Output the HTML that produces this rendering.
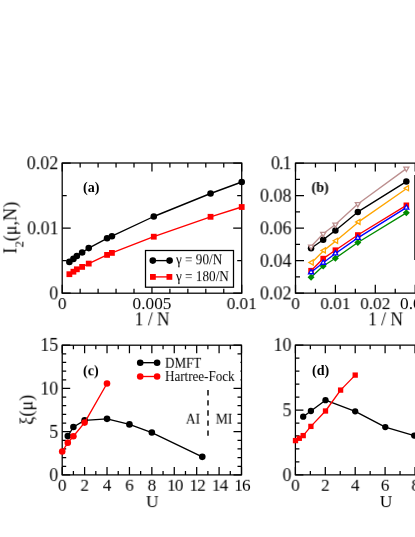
<!DOCTYPE html><html><head><meta charset="utf-8"><style>html,body{margin:0;padding:0;background:#fff}svg{display:block}text{font-family:"Liberation Serif",serif;fill:#000;will-change:transform}</style></head><body>
<svg width="415" height="537" viewBox="0 0 415 537">
<rect width="415" height="537" fill="#fff"/>
<rect x="62.2" y="163.0" width="179.5" height="130.2" fill="none" stroke="#000" stroke-width="1.25"/>
<path d="M62.20 293.2v-8.5M62.20 163.0v8.5M80.15 293.2v-4.5M80.15 163.0v4.5M98.10 293.2v-4.5M98.10 163.0v4.5M116.05 293.2v-4.5M116.05 163.0v4.5M134.00 293.2v-4.5M134.00 163.0v4.5M151.95 293.2v-8.5M151.95 163.0v8.5M169.90 293.2v-4.5M169.90 163.0v4.5M187.85 293.2v-4.5M187.85 163.0v4.5M205.80 293.2v-4.5M205.80 163.0v4.5M223.75 293.2v-4.5M223.75 163.0v4.5M241.70 293.2v-8.5M241.70 163.0v8.5M62.2 293.20h8.5M241.7 293.20h-8.5M62.2 260.65h4.5M241.7 260.65h-4.5M62.2 228.10h8.5M241.7 228.10h-8.5M62.2 195.55h4.5M241.7 195.55h-4.5M62.2 163.00h8.5M241.7 163.00h-8.5" fill="none" stroke="#000" stroke-width="1.25"/>
<path d="M69.38 261.90L73.42 258.90L76.85 256.00L82.14 252.50L88.75 248.10L107.08 238.30L111.92 236.20L153.78 216.50L210.55 193.50L241.70 182.00" fill="none" stroke="#000" stroke-width="1.35" stroke-linejoin="round"/>
<circle cx="69.38" cy="261.90" r="3.3" fill="#000"/>
<circle cx="73.42" cy="258.90" r="3.3" fill="#000"/>
<circle cx="76.85" cy="256.00" r="3.3" fill="#000"/>
<circle cx="82.14" cy="252.50" r="3.3" fill="#000"/>
<circle cx="88.75" cy="248.10" r="3.3" fill="#000"/>
<circle cx="107.08" cy="238.30" r="3.3" fill="#000"/>
<circle cx="111.92" cy="236.20" r="3.3" fill="#000"/>
<circle cx="153.78" cy="216.50" r="3.3" fill="#000"/>
<circle cx="210.55" cy="193.50" r="3.3" fill="#000"/>
<circle cx="241.70" cy="182.00" r="3.3" fill="#000"/>
<path d="M69.38 274.20L73.42 271.70L76.85 269.30L82.14 266.90L88.75 263.60L107.08 254.90L111.92 252.90L153.78 236.70L210.55 216.80L241.70 207.00" fill="none" stroke="#ff0000" stroke-width="1.35" stroke-linejoin="round"/>
<rect x="66.48" y="271.30" width="5.8" height="5.8" fill="#ff0000"/>
<rect x="70.52" y="268.80" width="5.8" height="5.8" fill="#ff0000"/>
<rect x="73.95" y="266.40" width="5.8" height="5.8" fill="#ff0000"/>
<rect x="79.24" y="264.00" width="5.8" height="5.8" fill="#ff0000"/>
<rect x="85.85" y="260.70" width="5.8" height="5.8" fill="#ff0000"/>
<rect x="104.17" y="252.00" width="5.8" height="5.8" fill="#ff0000"/>
<rect x="109.02" y="250.00" width="5.8" height="5.8" fill="#ff0000"/>
<rect x="150.88" y="233.80" width="5.8" height="5.8" fill="#ff0000"/>
<rect x="207.65" y="213.90" width="5.8" height="5.8" fill="#ff0000"/>
<rect x="238.80" y="204.10" width="5.8" height="5.8" fill="#ff0000"/>
<rect x="145.5" y="250.5" width="88.0" height="36.69999999999999" fill="#fff" stroke="#000" stroke-width="1.25"/>
<path d="M152.80 260.60L169.60 260.60" fill="none" stroke="#000" stroke-width="1.35" stroke-linejoin="round"/>
<circle cx="152.80" cy="260.60" r="3.3" fill="#000"/>
<circle cx="169.60" cy="260.60" r="3.3" fill="#000"/>
<path d="M152.90 276.90L169.40 276.90" fill="none" stroke="#ff0000" stroke-width="1.35" stroke-linejoin="round"/>
<rect x="150.00" y="274.00" width="5.8" height="5.8" fill="#ff0000"/>
<rect x="166.50" y="274.00" width="5.8" height="5.8" fill="#ff0000"/>
<text transform="translate(176.00,264.50) rotate(0.03) scale(1,1.1)" font-size="13.2" text-anchor="start" >γ = 90/N</text>
<text transform="translate(176.00,281.30) rotate(0.03) scale(1,1.1)" font-size="13.2" text-anchor="start" >γ = 180/N</text>
<text transform="translate(83.00,192.00) rotate(0.03) scale(1,1.0)" font-size="14.1" text-anchor="start" font-weight="bold">(a)</text>
<text transform="translate(58.30,169.40) rotate(0.03) scale(1,1.07)" font-size="18.0" text-anchor="end" >0.02</text>
<text transform="translate(58.60,234.50) rotate(0.03) scale(1,1.07)" font-size="18.0" text-anchor="end" >0.01</text>
<text transform="translate(58.30,299.60) rotate(0.03) scale(1,1.07)" font-size="18.0" text-anchor="end" >0</text>
<text transform="translate(62.20,309.10) rotate(0.03) scale(1,1.0)" font-size="17.3" text-anchor="middle" >0</text>
<text transform="translate(151.95,309.10) rotate(0.03) scale(1,1.0)" font-size="17.3" text-anchor="middle" >0.005</text>
<text transform="translate(241.70,309.10) rotate(0.03) scale(1,1.0)" font-size="17.3" text-anchor="middle" >0.01</text>
<text transform="translate(152.20,325.70) rotate(0.03) scale(1,1.02)" font-size="17.5" text-anchor="middle" >1 / N</text>
<text transform="translate(16.4,227.7) rotate(-90)" font-size="18.1" text-anchor="middle">I<tspan font-size="12.9" dy="7.4">2</tspan><tspan dy="-7.4">(μ,N)</tspan></text>
<path d="M420 163.0H295.5V293.2H420" fill="none" stroke="#000" stroke-width="1.25"/>
<path d="M295.50 293.2v-8.5M295.50 163.0v8.5M315.45 293.2v-4.5M315.45 163.0v4.5M335.40 293.2v-8.5M335.40 163.0v8.5M355.35 293.2v-4.5M355.35 163.0v4.5M375.30 293.2v-8.5M375.30 163.0v8.5M395.25 293.2v-4.5M395.25 163.0v4.5M415.20 293.2v-8.5M415.20 163.0v8.5M295.5 293.20h8.5M295.5 276.93h4.5M295.5 260.65h8.5M295.5 244.38h4.5M295.5 228.10h8.5M295.5 211.82h4.5M295.5 195.55h8.5M295.5 179.28h4.5M295.5 163.00h8.5" fill="none" stroke="#000" stroke-width="1.25"/>
<path d="M311.06 248.20L323.19 239.70L335.40 230.40L357.84 211.90L406.34 181.60" fill="none" stroke="#000" stroke-width="1.35" stroke-linejoin="round"/>
<circle cx="311.06" cy="248.20" r="3.25" fill="#000"/>
<circle cx="323.19" cy="239.70" r="3.25" fill="#000"/>
<circle cx="335.40" cy="230.40" r="3.25" fill="#000"/>
<circle cx="357.84" cy="211.90" r="3.25" fill="#000"/>
<circle cx="406.34" cy="181.60" r="3.25" fill="#000"/>
<path d="M311.06 270.70L323.19 258.60L335.40 250.20L357.84 235.00L406.34 205.30" fill="none" stroke="#ff0000" stroke-width="1.35" stroke-linejoin="round"/>
<rect x="308.26" y="267.90" width="5.6" height="5.6" fill="#ff0000"/>
<rect x="320.39" y="255.80" width="5.6" height="5.6" fill="#ff0000"/>
<rect x="332.60" y="247.40" width="5.6" height="5.6" fill="#ff0000"/>
<rect x="355.04" y="232.20" width="5.6" height="5.6" fill="#ff0000"/>
<rect x="403.54" y="202.50" width="5.6" height="5.6" fill="#ff0000"/>
<path d="M311.06 277.20L323.19 266.00L335.40 258.20L357.84 242.50L406.34 212.80" fill="none" stroke="#008b00" stroke-width="1.35" stroke-linejoin="round"/>
<path d="M311.06 273.70L314.56 277.20L311.06 280.70L307.56 277.20Z" fill="#008b00"/>
<path d="M323.19 262.50L326.69 266.00L323.19 269.50L319.69 266.00Z" fill="#008b00"/>
<path d="M335.40 254.70L338.90 258.20L335.40 261.70L331.90 258.20Z" fill="#008b00"/>
<path d="M357.84 239.00L361.34 242.50L357.84 246.00L354.34 242.50Z" fill="#008b00"/>
<path d="M406.34 209.30L409.84 212.80L406.34 216.30L402.84 212.80Z" fill="#008b00"/>
<path d="M311.06 272.32L323.19 262.82L335.40 253.52L357.84 237.92L406.34 207.62" fill="none" stroke="#0000ff" stroke-width="1.35" stroke-linejoin="round"/>
<path d="M308.56 273.77L313.56 273.77L311.06 269.43Z" fill="#fff" stroke="#0000ff" stroke-width="1.3" stroke-linejoin="miter"/>
<path d="M320.69 264.27L325.69 264.27L323.19 259.93Z" fill="#fff" stroke="#0000ff" stroke-width="1.3" stroke-linejoin="miter"/>
<path d="M332.90 254.97L337.90 254.97L335.40 250.63Z" fill="#fff" stroke="#0000ff" stroke-width="1.3" stroke-linejoin="miter"/>
<path d="M355.34 239.37L360.34 239.37L357.84 235.03Z" fill="#fff" stroke="#0000ff" stroke-width="1.3" stroke-linejoin="miter"/>
<path d="M403.84 209.07L408.84 209.07L406.34 204.73Z" fill="#fff" stroke="#0000ff" stroke-width="1.3" stroke-linejoin="miter"/>
<path d="M311.78 262.50L323.91 250.40L336.12 240.80L358.57 221.90L407.06 188.20" fill="none" stroke="#ffa500" stroke-width="1.35" stroke-linejoin="round"/>
<path d="M313.23 260.00L313.23 265.00L308.90 262.50Z" fill="#fff" stroke="#ffa500" stroke-width="1.3" stroke-linejoin="miter"/>
<path d="M325.36 247.90L325.36 252.90L321.03 250.40Z" fill="#fff" stroke="#ffa500" stroke-width="1.3" stroke-linejoin="miter"/>
<path d="M337.57 238.30L337.57 243.30L333.23 240.80Z" fill="#fff" stroke="#ffa500" stroke-width="1.3" stroke-linejoin="miter"/>
<path d="M360.01 219.40L360.01 224.40L355.68 221.90Z" fill="#fff" stroke="#ffa500" stroke-width="1.3" stroke-linejoin="miter"/>
<path d="M408.51 185.70L408.51 190.70L404.18 188.20Z" fill="#fff" stroke="#ffa500" stroke-width="1.3" stroke-linejoin="miter"/>
<path d="M311.06 246.58L323.19 233.78L335.40 224.48L357.84 203.98L406.34 168.58" fill="none" stroke="#bc8f8f" stroke-width="1.35" stroke-linejoin="round"/>
<path d="M308.56 245.13L313.56 245.13L311.06 249.47Z" fill="#fff" stroke="#bc8f8f" stroke-width="1.3" stroke-linejoin="miter"/>
<path d="M320.69 232.33L325.69 232.33L323.19 236.67Z" fill="#fff" stroke="#bc8f8f" stroke-width="1.3" stroke-linejoin="miter"/>
<path d="M332.90 223.03L337.90 223.03L335.40 227.37Z" fill="#fff" stroke="#bc8f8f" stroke-width="1.3" stroke-linejoin="miter"/>
<path d="M355.34 202.53L360.34 202.53L357.84 206.87Z" fill="#fff" stroke="#bc8f8f" stroke-width="1.3" stroke-linejoin="miter"/>
<path d="M403.84 167.13L408.84 167.13L406.34 171.47Z" fill="#fff" stroke="#bc8f8f" stroke-width="1.3" stroke-linejoin="miter"/>
<path d="M414.9 175V260" stroke="#000" stroke-width="1.25" fill="none"/>
<text transform="translate(311.50,192.00) rotate(0.03) scale(1,1.0)" font-size="14.1" text-anchor="start" font-weight="bold">(b)</text>
<text transform="translate(291.50,299.60) rotate(0.03) scale(1,1.07)" font-size="18.0" text-anchor="end" >0.02</text>
<text transform="translate(291.50,267.05) rotate(0.03) scale(1,1.07)" font-size="18.0" text-anchor="end" >0.04</text>
<text transform="translate(291.50,234.50) rotate(0.03) scale(1,1.07)" font-size="18.0" text-anchor="end" >0.06</text>
<text transform="translate(291.50,201.95) rotate(0.03) scale(1,1.07)" font-size="18.0" text-anchor="end" >0.08</text>
<text transform="translate(290.50,169.40) rotate(0.03) scale(1,1.07)" font-size="18.0" text-anchor="end" letter-spacing="-1">0.1</text>
<text transform="translate(295.50,309.10) rotate(0.03) scale(1,1.0)" font-size="17.3" text-anchor="middle" >0</text>
<text transform="translate(335.40,309.10) rotate(0.03) scale(1,1.0)" font-size="17.3" text-anchor="middle" >0.01</text>
<text transform="translate(375.30,309.10) rotate(0.03) scale(1,1.0)" font-size="17.3" text-anchor="middle" >0.02</text>
<text transform="translate(400.00,309.10) rotate(0.03) scale(1,1.0)" font-size="17.3" text-anchor="start" >0.03</text>
<text transform="translate(368.20,325.70) rotate(0.03) scale(1,1.02)" font-size="17.5" text-anchor="start" >1 / N</text>
<rect x="62.2" y="345.2" width="179.3" height="129.7" fill="none" stroke="#000" stroke-width="1.25"/>
<path d="M62.20 474.9v-8M62.20 345.2v8M73.41 474.9v-4.0M73.41 345.2v4.0M84.61 474.9v-8M84.61 345.2v8M95.82 474.9v-4.0M95.82 345.2v4.0M107.03 474.9v-8M107.03 345.2v8M118.23 474.9v-4.0M118.23 345.2v4.0M129.44 474.9v-8M129.44 345.2v8M140.64 474.9v-4.0M140.64 345.2v4.0M151.85 474.9v-8M151.85 345.2v8M163.06 474.9v-4.0M163.06 345.2v4.0M174.26 474.9v-8M174.26 345.2v8M185.47 474.9v-4.0M185.47 345.2v4.0M196.68 474.9v-8M196.68 345.2v8M207.88 474.9v-4.0M207.88 345.2v4.0M219.09 474.9v-8M219.09 345.2v8M230.29 474.9v-4.0M230.29 345.2v4.0M241.50 474.9v-8M241.50 345.2v8M62.2 474.90h8M241.5 474.90h-8M62.2 466.25h4.0M241.5 466.25h-4.0M62.2 457.61h4.0M241.5 457.61h-4.0M62.2 448.96h4.0M241.5 448.96h-4.0M62.2 440.31h4.0M241.5 440.31h-4.0M62.2 431.67h8M241.5 431.67h-8M62.2 423.02h4.0M241.5 423.02h-4.0M62.2 414.37h4.0M241.5 414.37h-4.0M62.2 405.73h4.0M241.5 405.73h-4.0M62.2 397.08h4.0M241.5 397.08h-4.0M62.2 388.43h8M241.5 388.43h-8M62.2 379.79h4.0M241.5 379.79h-4.0M62.2 371.14h4.0M241.5 371.14h-4.0M62.2 362.49h4.0M241.5 362.49h-4.0M62.2 353.85h4.0M241.5 353.85h-4.0M62.2 345.20h8M241.5 345.20h-8" fill="none" stroke="#000" stroke-width="1.25"/>
<rect x="134" y="357" width="106.4" height="27" fill="#fff"/>
<path d="M67.80 436.08L73.41 427.00L84.61 420.34L107.03 418.87L129.44 424.40L151.85 432.53L202.28 456.83" fill="none" stroke="#000" stroke-width="1.35" stroke-linejoin="round"/>
<circle cx="67.80" cy="436.08" r="3.3" fill="#000"/>
<circle cx="73.41" cy="427.00" r="3.3" fill="#000"/>
<circle cx="84.61" cy="420.34" r="3.3" fill="#000"/>
<circle cx="107.03" cy="418.87" r="3.3" fill="#000"/>
<circle cx="129.44" cy="424.40" r="3.3" fill="#000"/>
<circle cx="151.85" cy="432.53" r="3.3" fill="#000"/>
<circle cx="202.28" cy="456.83" r="3.3" fill="#000"/>
<path d="M62.20 451.50L67.80 442.80L73.40 436.20L84.60 422.60L107.00 383.50" fill="none" stroke="#ff0000" stroke-width="1.35" stroke-linejoin="round"/>
<circle cx="62.20" cy="451.50" r="3.3" fill="#ff0000"/>
<circle cx="67.80" cy="442.80" r="3.3" fill="#ff0000"/>
<circle cx="73.40" cy="436.20" r="3.3" fill="#ff0000"/>
<circle cx="84.60" cy="422.60" r="3.3" fill="#ff0000"/>
<circle cx="107.00" cy="383.50" r="3.3" fill="#ff0000"/>
<path d="M140.20 362.70L157.10 362.70" fill="none" stroke="#000" stroke-width="1.35" stroke-linejoin="round"/>
<circle cx="140.20" cy="362.70" r="3.3" fill="#000"/>
<circle cx="157.10" cy="362.70" r="3.3" fill="#000"/>
<path d="M140.20 376.50L157.10 376.50" fill="none" stroke="#ff0000" stroke-width="1.35" stroke-linejoin="round"/>
<circle cx="140.20" cy="376.50" r="3.3" fill="#ff0000"/>
<circle cx="157.10" cy="376.50" r="3.3" fill="#ff0000"/>
<text transform="translate(165.10,368.00) rotate(0.03) scale(1,1.1)" font-size="13.05" text-anchor="start" >DMFT</text>
<text transform="translate(165.10,381.20) rotate(0.03) scale(1,1.1)" font-size="13.05" text-anchor="start" >Hartree-Fock</text>
<path d="M208.0 390.1V435.8" stroke="#000" stroke-width="1.45" stroke-dasharray="5.4 4.7" fill="none"/>
<text transform="translate(185.80,424.00) rotate(0.03) scale(1,1.1)" font-size="13.5" text-anchor="start" >AI</text>
<text transform="translate(215.80,424.00) rotate(0.03) scale(1,1.1)" font-size="13.5" text-anchor="start" >MI</text>
<text transform="translate(83.00,375.30) rotate(0.03) scale(1,1.0)" font-size="14.1" text-anchor="start" font-weight="bold">(c)</text>
<text transform="translate(58.30,481.30) rotate(0.03) scale(1,1.07)" font-size="18.0" text-anchor="end" >0</text>
<text transform="translate(58.30,438.07) rotate(0.03) scale(1,1.07)" font-size="18.0" text-anchor="end" >5</text>
<text transform="translate(58.30,394.83) rotate(0.03) scale(1,1.07)" font-size="18.0" text-anchor="end" >10</text>
<text transform="translate(58.30,351.10) rotate(0.03) scale(1,1.07)" font-size="18.0" text-anchor="end" >15</text>
<text transform="translate(62.20,490.80) rotate(0.03) scale(1,1.0)" font-size="17.3" text-anchor="middle" >0</text>
<text transform="translate(84.61,490.80) rotate(0.03) scale(1,1.0)" font-size="17.3" text-anchor="middle" >2</text>
<text transform="translate(107.03,490.80) rotate(0.03) scale(1,1.0)" font-size="17.3" text-anchor="middle" >4</text>
<text transform="translate(129.44,490.80) rotate(0.03) scale(1,1.0)" font-size="17.3" text-anchor="middle" >6</text>
<text transform="translate(151.85,490.80) rotate(0.03) scale(1,1.0)" font-size="17.3" text-anchor="middle" >8</text>
<text transform="translate(174.76,490.80) rotate(0.03) scale(1,1.0)" font-size="17.3" text-anchor="middle" letter-spacing="-1">10</text>
<text transform="translate(197.18,490.80) rotate(0.03) scale(1,1.0)" font-size="17.3" text-anchor="middle" letter-spacing="-1">12</text>
<text transform="translate(219.59,490.80) rotate(0.03) scale(1,1.0)" font-size="17.3" text-anchor="middle" letter-spacing="-1">14</text>
<text transform="translate(242.00,490.80) rotate(0.03) scale(1,1.0)" font-size="17.3" text-anchor="middle" letter-spacing="-1">16</text>
<text transform="translate(152.30,506.80) rotate(0.03) scale(1,0.98)" font-size="17.5" text-anchor="middle" >U</text>
<text transform="translate(32.5,409.8) rotate(-90)" font-size="18.1" text-anchor="middle">ξ(μ)</text>
<path d="M480 345.2H295.4V474.9H480" fill="none" stroke="#000" stroke-width="1.25"/>
<path d="M295.40 474.9v-8M295.40 345.2v8M310.35 474.9v-4.0M310.35 345.2v4.0M325.30 474.9v-8M325.30 345.2v8M340.25 474.9v-4.0M340.25 345.2v4.0M355.20 474.9v-8M355.20 345.2v8M370.15 474.9v-4.0M370.15 345.2v4.0M385.10 474.9v-8M385.10 345.2v8M400.05 474.9v-4.0M400.05 345.2v4.0M415.00 474.9v-8M415.00 345.2v8M295.4 474.90h8M295.4 461.93h4.0M295.4 448.96h4.0M295.4 435.99h4.0M295.4 423.02h4.0M295.4 410.05h8M295.4 397.08h4.0M295.4 384.11h4.0M295.4 371.14h4.0M295.4 358.17h4.0M295.4 345.20h8" fill="none" stroke="#000" stroke-width="1.25"/>
<path d="M303.20 416.70L310.90 411.00L325.50 400.20L355.20 411.30L385.30 427.10L414.20 435.60" fill="none" stroke="#000" stroke-width="1.35" stroke-linejoin="round"/>
<circle cx="303.20" cy="416.70" r="3.15" fill="#000"/>
<circle cx="310.90" cy="411.00" r="3.15" fill="#000"/>
<circle cx="325.50" cy="400.20" r="3.15" fill="#000"/>
<circle cx="355.20" cy="411.30" r="3.15" fill="#000"/>
<circle cx="385.30" cy="427.10" r="3.15" fill="#000"/>
<circle cx="414.20" cy="435.60" r="3.15" fill="#000"/>
<path d="M295.50 440.60L299.30 438.30L303.20 435.60L310.90 426.40L325.50 411.00L340.60 390.10L355.20 375.10" fill="none" stroke="#ff0000" stroke-width="1.35" stroke-linejoin="round"/>
<rect x="292.85" y="437.95" width="5.3" height="5.3" fill="#ff0000"/>
<rect x="296.65" y="435.65" width="5.3" height="5.3" fill="#ff0000"/>
<rect x="300.55" y="432.95" width="5.3" height="5.3" fill="#ff0000"/>
<rect x="308.25" y="423.75" width="5.3" height="5.3" fill="#ff0000"/>
<rect x="322.85" y="408.35" width="5.3" height="5.3" fill="#ff0000"/>
<rect x="337.95" y="387.45" width="5.3" height="5.3" fill="#ff0000"/>
<rect x="352.55" y="372.45" width="5.3" height="5.3" fill="#ff0000"/>
<text transform="translate(312.00,375.00) rotate(0.03) scale(1,1.0)" font-size="14.1" text-anchor="start" font-weight="bold">(d)</text>
<text transform="translate(291.50,481.30) rotate(0.03) scale(1,1.07)" font-size="18.0" text-anchor="end" >0</text>
<text transform="translate(291.50,416.45) rotate(0.03) scale(1,1.07)" font-size="18.0" text-anchor="end" >5</text>
<text transform="translate(291.50,351.10) rotate(0.03) scale(1,1.07)" font-size="18.0" text-anchor="end" >10</text>
<text transform="translate(295.40,490.80) rotate(0.03) scale(1,1.0)" font-size="17.3" text-anchor="middle" >0</text>
<text transform="translate(325.30,490.80) rotate(0.03) scale(1,1.0)" font-size="17.3" text-anchor="middle" >2</text>
<text transform="translate(355.20,490.80) rotate(0.03) scale(1,1.0)" font-size="17.3" text-anchor="middle" >4</text>
<text transform="translate(385.10,490.80) rotate(0.03) scale(1,1.0)" font-size="17.3" text-anchor="middle" >6</text>
<text transform="translate(415.60,490.80) rotate(0.03) scale(1,1.0)" font-size="17.3" text-anchor="middle" >8</text>
<text transform="translate(386.00,506.80) rotate(0.03) scale(1,0.98)" font-size="17.5" text-anchor="middle" >U</text>
</svg></body></html>
